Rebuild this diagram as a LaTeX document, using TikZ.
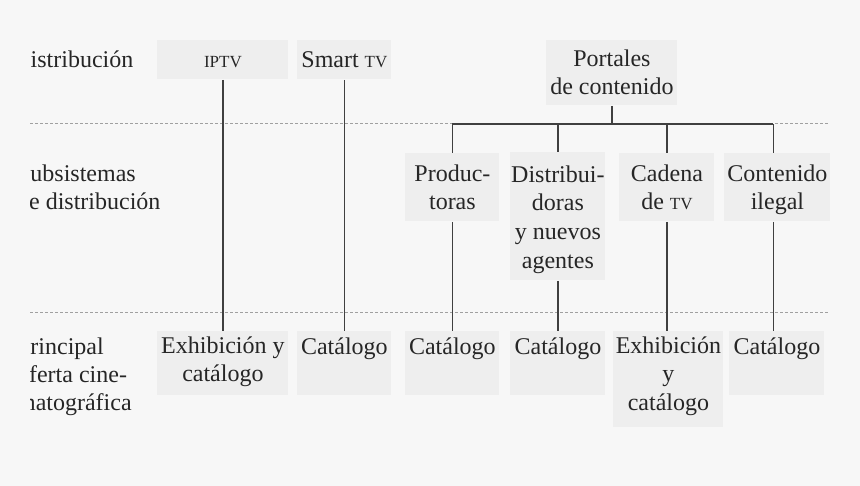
\documentclass[tikz,border=0pt]{standalone}
\usepackage{fontspec}
\setmainfont{Liberation Serif}
\usetikzlibrary{positioning}
\definecolor{bggray}{HTML}{F7F7F7}
\definecolor{cellgray}{HTML}{EEEEEE}
\definecolor{inkgray}{HTML}{262626}
\definecolor{linegray}{HTML}{404040}
\definecolor{dashgray}{HTML}{A0A0A0}
\newcommand{\tvsc}[1]{{\fontsize{8.5}{10}\selectfont #1}}

\begin{document}
\begin{tikzpicture}[x=0.5pt,y=-0.5pt,
  cell/.style={fill=cellgray,inner sep=0pt,anchor=north west},
  celltext/.style={font=\fontsize{12}{14.4}\selectfont,align=center,inner sep=0pt,text=inkgray,execute at begin node=\rule{0pt}{9pt}},
  rowlabel/.style={font=\fontsize{12}{14}\selectfont,align=left,inner sep=0pt,anchor=north west,text=inkgray,execute at begin node=\rule{0pt}{9pt}},
  link/.style={draw=linegray,line width=0.9pt},
  sep/.style={draw=dashgray,line width=0.5pt,dash pattern=on 1.5pt off 1pt}]
\useasboundingbox (0,0) rectangle (860,486);
\fill[bggray] (0,0) rectangle (860,486);
% separators between the three levels
\draw[sep] (30,124) -- (830,124);
\draw[sep] (30,312) -- (830,312);
% row titles, cut at the left edge
\begin{scope}
\clip (30,0) rectangle (860,486);
\node[rowlabel] (lab1) at (13,49) {Distribución};
\node[rowlabel] (lab2) at (16.7,164) {Subsistemas\\de distribución};
\node[rowlabel] (lab3) at (16.7,337) {Principal\\oferta cine-\\matográfica};
\end{scope}
% cells: name/x/y/width/height/text offset/text
\foreach \n/\x/\y/\w/\h/\o/\t in {
  iptv/157/40/131/39/4.5pt/{\tvsc{IPTV}},
  stv/297/40/94/39/4.5pt/{Smart \tvsc{TV}},
  port/546/40/131/65/4.5pt/{Portales\\de contenido},
  prod/405/153/94/68/5.5pt/{Produc-\\toras},
  dist/510/152/95/128/6.5pt/{Distribui-\\doras\\y nuevos\\agentes},
  cad/619/153/95/68/5.5pt/{Cadena\\de \tvsc{TV}},
  ileg/724/153/106/68/5.5pt/{Contenido\\ilegal},
  exh1/157/331/131/64/2.5pt/{Exhibición y\\catálogo},
  cat2/297/331/94/64/2.5pt/{Catálogo},
  cat3/405/331/94/64/2.5pt/{Catálogo},
  cat4/510/331/95/64/2.5pt/{Catálogo},
  exh2/613/331/110/96/2.5pt/{Exhibición\\y\\catálogo},
  cat6/729/331/95/64/2.5pt/{Catálogo}}
{
  \node[cell,minimum width=\w*0.5pt,minimum height=\h*0.5pt] (\n) at (\x,\y) {};
  \node[celltext,below=\o of \n.north] (\n-t) {\t};
}
% straight links
\draw[link] (iptv.south) -- (exh1.north);
\draw[link] (stv.south) -- (cat2.north);
\draw[link] (prod.south) -- (cat3.north);
\draw[link] (dist.south) -- (cat4.north);
\draw[link] (cad.south) -- (cad.south |- exh2.north);
\draw[link] ([xshift=-2pt]ileg.south) -- ([xshift=-2pt]ileg.south |- cat6.north);
% fork under the portals
\coordinate (fork) at (0,124);
\draw[link] (port.south) -- (port.south |- fork);
\draw[link] (prod.north |- fork) -- ([xshift=-2pt]ileg.north |- fork);
\foreach \c in {prod,dist,cad}
  \draw[link] (\c.north |- fork) -- (\c.north);
\draw[link] ([xshift=-2pt]ileg.north |- fork) -- ([xshift=-2pt]ileg.north);
\end{tikzpicture}
\end{document}
